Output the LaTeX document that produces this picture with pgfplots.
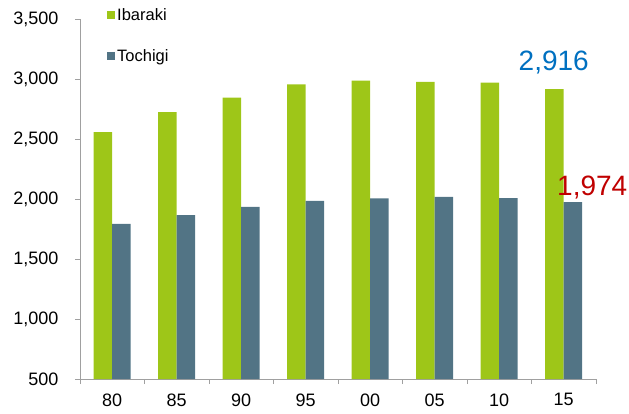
\documentclass[border=0pt]{standalone}
\usepackage{pgfplots}
\pgfplotsset{compat=1.18}
\usepackage{fontspec}
\setmainfont{Liberation Sans}
\definecolor{ibagreen}{RGB}{158,198,24}
\definecolor{tochiteal}{RGB}{82,116,133}
\definecolor{axisgray}{RGB}{160,160,160}
\definecolor{lblblue}{RGB}{0,112,192}
\definecolor{lblred}{RGB}{192,0,0}

\pgfplotstableread{
x year ibaraki tochigi
0 80 2558 1792
1 85 2725 1866
2 90 2845 1935
3 95 2956 1984
4 00 2986 2005
5 05 2975 2017
6 10 2970 2008
7 15 2916 1974
}\poptable

\begin{document}
\begin{tikzpicture}
\useasboundingbox (-80pt,-34pt) rectangle (549pt,379pt);
\begin{axis}[
  at={(0pt,0pt)}, anchor=south west,
  scale only axis, width=516pt, height=360pt,
  clip=false,
  ybar=0pt, bar width=18.5pt,
  xmin=-0.5, xmax=7.5,
  ymin=500, ymax=3500,
  ytick={500,1000,...,3500},
  xtick={0,...,7},
  xticklabels={80,85,90,95,00,05,10,15},
  minor xtick={-0.5,0.5,...,7.5},
  major x tick style={draw=none},
  minor tick length=5pt,
  major tick length=5pt,
  tick align=outside,
  axis x line*=bottom, axis y line*=left,
  axis line style={axisgray, line width=0.8pt},
  every tick/.style={axisgray, line width=0.8pt},
  /pgf/number format/.cd, 1000 sep={,}, assume math mode=true,
  /pgfplots/.cd,
  tick label style={font=\fontsize{18pt}{21pt}\selectfont, text=black},
  yticklabel style={xshift=-13pt},
  xticklabel style={yshift=-6pt},
  legend style={draw=none, fill=none, at={(axis description cs:0,1)}, anchor=north west,
    xshift=27pt, yshift=13pt, row sep=24pt,
    font=\fontsize{16.5pt}{19pt}\selectfont, inner sep=0pt},
  legend cell align=left,
  legend image code/.code={\fill[#1] (0pt,-4pt) rectangle (8pt,4pt);},
]
\addplot[fill=ibagreen, draw=none] table[x=x, y=ibaraki] {\poptable};
\addplot[fill=tochiteal, draw=none] table[x=x, y=tochigi] {\poptable};
\legend{Ibaraki, Tochigi}
\node[text=lblblue, font=\fontsize{28pt}{32pt}\selectfont, xshift=-10pt, yshift=27pt] at (axis cs:7,2916) {2,916};
\node[text=lblred, font=\fontsize{28pt}{32pt}\selectfont, xshift=28.5pt, yshift=15pt] at (axis cs:7,1974) {1,974};
\end{axis}
\end{tikzpicture}
\end{document}
